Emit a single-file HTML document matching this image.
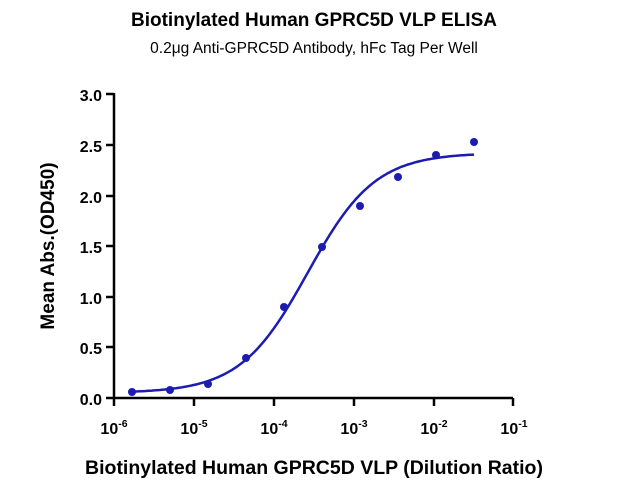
<!DOCTYPE html>
<html><head><style>
body{margin:0;background:#fff;}
svg text{font-family:"Liberation Sans",sans-serif;}
</style></head><body>
<svg id="s" width="628" height="496" viewBox="0 0 628 496" xmlns="http://www.w3.org/2000/svg">
<text x="314" y="26" text-anchor="middle" font-size="19" font-weight="bold">Biotinylated Human GPRC5D VLP ELISA</text>
<text x="314" y="53" text-anchor="middle" font-size="15.5">0.2μg Anti-GPRC5D Antibody, hFc Tag Per Well</text>
<g stroke="#000" stroke-width="2.5" fill="none">
<line x1="114" y1="93" x2="114" y2="399"/>
<line x1="113" y1="398" x2="513" y2="398"/>
<line x1="106" y1="94" x2="114" y2="94"/><line x1="106" y1="145" x2="114" y2="145"/><line x1="106" y1="196" x2="114" y2="196"/><line x1="106" y1="246" x2="114" y2="246"/><line x1="106" y1="297" x2="114" y2="297"/><line x1="106" y1="347" x2="114" y2="347"/><line x1="106" y1="398" x2="114" y2="398"/>
<line x1="194" y1="398" x2="194" y2="406"/><line x1="274" y1="398" x2="274" y2="406"/><line x1="354" y1="398" x2="354" y2="406"/><line x1="434" y1="398" x2="434" y2="406"/><line x1="513" y1="398" x2="513" y2="406"/>
<line x1="114" y1="398" x2="114" y2="406"/>
</g>
<g font-size="16" font-weight="bold" text-anchor="end">
<text x="102" y="101">3.0</text><text x="102" y="152">2.5</text><text x="102" y="203">2.0</text><text x="102" y="253">1.5</text><text x="102" y="304">1.0</text><text x="102" y="354">0.5</text><text x="102" y="405">0.0</text>
</g>
<g font-size="16" font-weight="bold" text-anchor="middle">
<text x="114" y="434">10<tspan font-size="10.5" dy="-7">-6</tspan></text>
<text x="194" y="434">10<tspan font-size="10.5" dy="-7">-5</tspan></text>
<text x="274" y="434">10<tspan font-size="10.5" dy="-7">-4</tspan></text>
<text x="354" y="434">10<tspan font-size="10.5" dy="-7">-3</tspan></text>
<text x="434" y="434">10<tspan font-size="10.5" dy="-7">-2</tspan></text>
<text x="514" y="434">10<tspan font-size="10.5" dy="-7">-1</tspan></text>
</g>
<text x="314" y="474" text-anchor="middle" font-size="19.5" font-weight="bold">Biotinylated Human GPRC5D VLP (Dilution Ratio)</text>
<text transform="translate(54,246) rotate(-90)" text-anchor="middle" font-size="19" font-weight="bold">Mean Abs.(OD450)</text>
<path id="c" fill="none" stroke="#1c1cb0" stroke-width="2.5"/>
<g fill="#1c1cb0">
<circle cx="132" cy="392" r="4"/><circle cx="170" cy="390" r="4"/><circle cx="208" cy="384" r="4"/><circle cx="246" cy="358" r="4"/><circle cx="284" cy="307" r="4"/><circle cx="322" cy="247" r="4"/><circle cx="360" cy="206" r="4"/><circle cx="398" cy="177" r="4"/><circle cx="436" cy="155" r="4"/><circle cx="474" cy="142" r="4"/>
</g>
</svg>
<script>
var d="";for(var x=132;x<=474;x+=2){var l=-6+(x-114)/80;var v=0.05+2.37/(1+Math.pow(10,1.03*(-3.58-l)));var y=398-v*101.3;d+=(x==132?"M":"L")+x+","+y.toFixed(1);}
document.getElementById("c").setAttribute("d",d);
</script>
</body></html>
